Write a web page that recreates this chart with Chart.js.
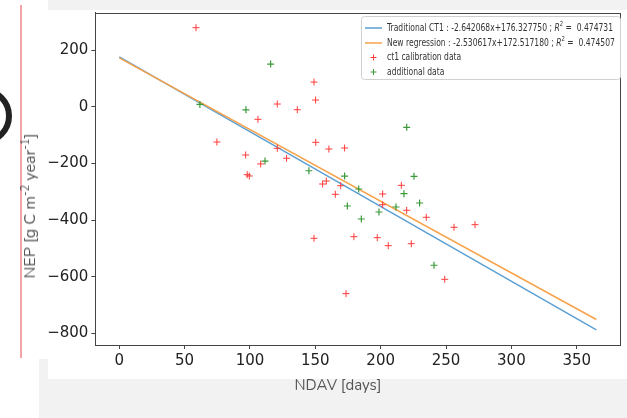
<!DOCTYPE html>
<html><head><meta charset="utf-8">
<script src="https://cdn.jsdelivr.net/npm/chart.js@4/dist/chart.umd.min.js"></script>
<style>
html,body{margin:0;padding:0;background:#fff;width:627px;height:418px;overflow:hidden;position:relative}
#greyB{position:absolute;left:39px;top:359px;width:588px;height:59px;background:#f2f2f2}
#greyT{position:absolute;left:48px;top:0;width:579px;height:10px;background:#f2f2f2}
#white{position:absolute;left:48px;top:10px;width:579px;height:369px;background:#fff}
#pink{position:absolute;left:20px;top:5px;width:2px;height:353px;background:#f3a3a6}
#arc{position:absolute;left:-46px;top:87px;width:46px;height:46px;border:6px solid #222;border-radius:50%}
canvas{position:absolute;left:0;top:0}
.t{position:absolute;font-family:Nunito,Lato,"Open Sans",sans-serif;font-size:15px;color:#555;white-space:nowrap}
.t sup{font-size:11px;vertical-align:6px;line-height:0}
</style></head>
<body>
<div id="greyB"></div><div id="greyT"></div><div id="white"></div><div id="pink"></div><div id="arc"></div>
<canvas id="c" width="627" height="418"></canvas>
<div class="t" style="left:30px;top:206px;font-size:16px;transform:translate(-50%,-50%) rotate(-90deg)">NEP [g C m<sup>-2</sup> year<sup>-1</sup>]</div>
<div class="t" style="left:338px;top:385px;transform:translate(-50%,-50%)">NDAV [days]</div>
<script>
// ---- data ----
const ct1X = [58.7, 149, 120.9, 136.2, 150.2, 106.1, 74.7, 96.7, 97.9, 99.5, 108.2, 120.9, 128, 150.3, 160.4, 172.4, 155.6, 158.4, 169.4, 165.3, 149, 173.5, 179.5, 201.5, 201.5, 197.4, 205.8, 215.8, 219.9, 234.9, 223.4, 256.1, 272.2, 249];
const ct1Y = [279, 87, 9.5, -10.6, 23.6, -44.5, -124.6, -170.5, -240, -244.6, -202, -146.9, -182, -125.7, -149.3, -145.8, -272.9, -262.3, -278.9, -309.2, -464.5, -660, -458.9, -308.2, -345.9, -462.4, -490.6, -277.5, -365.7, -390.4, -483.6, -425.7, -416.5, -609.3];
const addX = [61.7, 115.8, 96.9, 111.5, 145.1, 172.4, 174.5, 219.9, 183.2, 185.2, 198.7, 211.7, 217.8, 225.5, 229.8, 240.8];
const addY = [8, 150.7, -11, -192, -226, -245, -350.5, -72.7, -290.5, -396.4, -371.7, -354, -307, -245.7, -340, -559.8];
const lineX = [0, 365];
const tradY = [176.3, -788.0];
const newY = [172.5, -751.2];
const xTicks = [0, 50, 100, 150, 200, 250, 300, 350];
const yTicks = [-800, -600, -400, -200, 0, 200];
const legendLabels = [
  'Traditional CT1 : -2.642068x+176.327750 ; R² =  0.474731',
  'New regression : -2.530617x+172.517180 ; R² =  0.474507',
  'ct1 calibration data',
  'additional data'
];
// ---------------------------------------
const BLUE = '#5b9fd2', ORANGE = '#f7a24a', RED = '#ff3b3b', GREEN = '#3a9a3a';
const pts = (xs, ys) => xs.map((x, i) => ({x: x, y: ys[i]}));
const fmt = v => String(v).replace('-', '\u2212');

function drawRich(ctx, text, x, y, sx, size, measureOnly) {
  const parts = text.split('R²');
  const normal = size + 'px "DejaVu Sans"';
  const ital = 'italic ' + size + 'px "DejaVu Sans"';
  const small = (size * 0.7) + 'px "DejaVu Sans"';
  let w = 0;
  const segs = [];
  segs.push([parts[0], normal, 0]);
  if (parts.length > 1) {
    segs.push(['R', ital, 0]);
    segs.push(['2', small, -size * 0.4]);
    segs.push([parts[1], normal, 0]);
  }
  ctx.save();
  ctx.translate(x, y);
  ctx.scale(sx, 1);
  ctx.textBaseline = 'middle';
  for (const s of segs) {
    ctx.font = s[1];
    if (!measureOnly) ctx.fillText(s[0], w, s[2]);
    w += ctx.measureText(s[0]).width;
  }
  ctx.restore();
  return w;
}

const frame = {
  id: 'frame',
  afterDatasetsDraw(chart) {
    const {ctx, chartArea: a} = chart;
    ctx.save();
    ctx.strokeStyle = '#444';
    ctx.lineWidth = 1;
    ctx.strokeRect(Math.round(a.left) + 0.5, Math.round(a.top) + 0.5, Math.round(a.right - a.left), Math.round(a.bottom - a.top));
    ctx.restore();
  }
};

const legend = {
  id: 'lg',
  afterDraw(chart) {
    const ctx = chart.ctx;
    ctx.save();
    const bx = 361.5, by = 16.5, bw = 259, bh = 63, r = 3;
    ctx.beginPath();
    ctx.moveTo(bx + r, by); ctx.lineTo(bx + bw - r, by); ctx.quadraticCurveTo(bx + bw, by, bx + bw, by + r);
    ctx.lineTo(bx + bw, by + bh - r); ctx.quadraticCurveTo(bx + bw, by + bh, bx + bw - r, by + bh);
    ctx.lineTo(bx + r, by + bh); ctx.quadraticCurveTo(bx, by + bh, bx, by + bh - r);
    ctx.lineTo(bx, by + r); ctx.quadraticCurveTo(bx, by, bx + r, by);
    ctx.closePath();
    ctx.fillStyle = 'rgba(255,255,255,0.85)';
    ctx.fill();
    ctx.strokeStyle = '#d0d0d0';
    ctx.lineWidth = 1;
    ctx.stroke();
    const size = 10;
    const w0 = drawRich(ctx, legendLabels[0], 0, 0, 1, size, true);
    const sx = 226 / w0;
    const rows = [28, 43, 57.5, 72];
    const kinds = [['line', BLUE], ['line', ORANGE], ['pt', RED], ['pt', GREEN]];
    for (let i = 0; i < 4; i++) {
      const y = rows[i];
      ctx.strokeStyle = kinds[i][1];
      if (kinds[i][0] === 'line') {
        ctx.lineWidth = 1.5;
        ctx.beginPath(); ctx.moveTo(365, y); ctx.lineTo(382, y); ctx.stroke();
      } else {
        ctx.lineWidth = 1;
        ctx.beginPath(); ctx.moveTo(370.5, y); ctx.lineTo(376.5, y); ctx.moveTo(373.5, y - 3); ctx.lineTo(373.5, y + 3); ctx.stroke();
      }
      ctx.fillStyle = '#333';
      drawRich(ctx, legendLabels[i], 387, y, sx, size, false);
    }
    ctx.restore();
  }
};

const axisCommon = {
  type: 'linear',
  grid: {display: true, drawOnChartArea: false, drawTicks: true, tickLength: 4, color: '#444'},
  border: {display: true, color: '#444', width: 1},
  ticks: {font: {family: 'DejaVu Sans', size: 15}, color: '#222', padding: 3, maxRotation: 0, autoSkip: false, includeBounds: false, callback: v => fmt(v)}
};

new Chart(document.getElementById('c'), {
  type: 'scatter',
  data: {
    datasets: [
      {label: legendLabels[2], data: pts(ct1X, ct1Y), pointStyle: 'cross', pointRadius: 3.5, borderWidth: 1, borderColor: RED, backgroundColor: RED},
      {label: legendLabels[3], data: pts(addX, addY), pointStyle: 'cross', pointRadius: 3.5, borderWidth: 1.2, borderColor: GREEN, backgroundColor: GREEN},
      {label: legendLabels[1], data: pts(lineX, newY), showLine: true, pointRadius: 0, borderWidth: 1.5, borderColor: ORANGE, backgroundColor: ORANGE},
      {label: legendLabels[0], data: pts(lineX, tradY), showLine: true, pointRadius: 0, borderWidth: 1.5, borderColor: BLUE, backgroundColor: BLUE}
    ]
  },
  options: {
    responsive: false,
    animation: false,
    devicePixelRatio: 1,
    layout: {padding: {top: 12.8, right: 6.8, left: 0, bottom: 0}},
    plugins: {legend: {display: false}, tooltip: {enabled: false}},
    scales: {
      x: Object.assign({}, axisCommon, {
        min: -18.25, max: 383.25,
        afterBuildTicks: s => { s.ticks = xTicks.map(v => ({value: v})); },
        afterFit: s => { s.height = 73; }
      }),
      y: Object.assign({}, axisCommon, {
        min: -841.3, max: 331.6,
        afterBuildTicks: s => { s.ticks = yTicks.map(v => ({value: v})); },
        afterFit: s => { s.width = 95.4; }
      })
    }
  },
  plugins: [frame, legend]
});
</script>
</body></html>
